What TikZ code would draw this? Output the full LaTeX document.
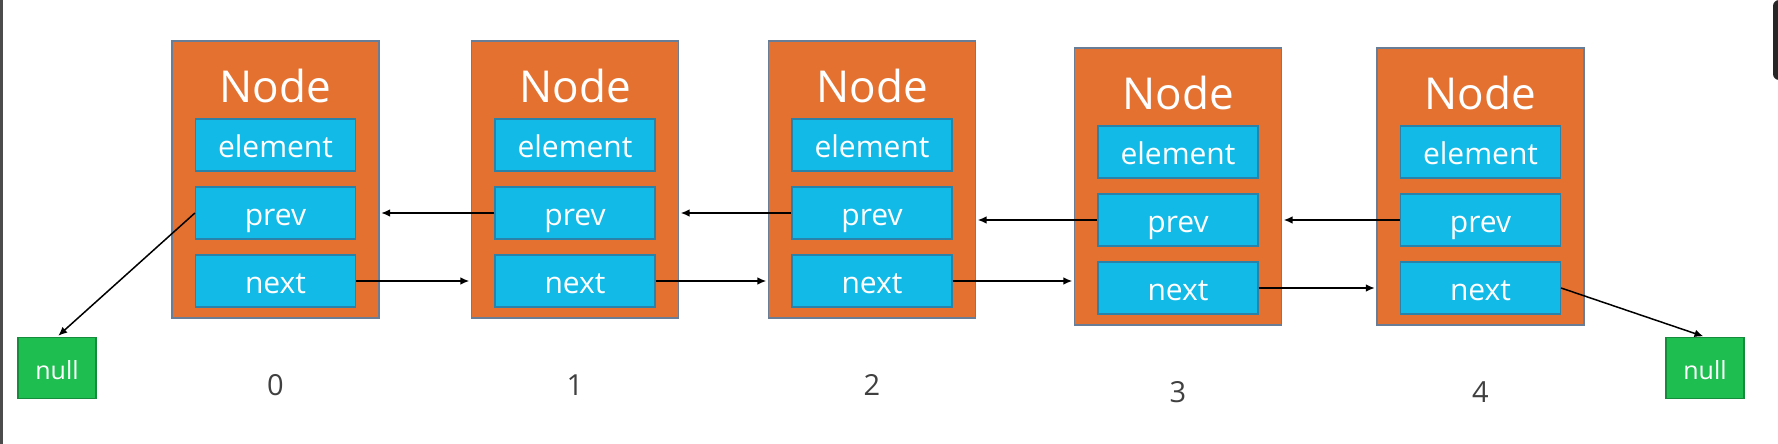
\documentclass[tikz,border=0pt]{standalone}
\usepackage{fontspec}
\setmainfont{Open Sans}
\usetikzlibrary{arrows.meta}
\definecolor{nodeorange}{RGB}{228,113,48}
\definecolor{nodeborder}{RGB}{105,125,150}
\definecolor{fieldblue}{RGB}{18,186,232}
\definecolor{fieldborder}{RGB}{40,130,170}
\definecolor{nullgreen}{RGB}{30,190,80}
\definecolor{nullborder}{RGB}{20,140,60}
\definecolor{idxgray}{RGB}{64,64,64}
\tikzset{
  outerbox/.style={draw=nodeborder, line width=0.6pt, fill=nodeorange, minimum width=103.5pt, minimum height=138.5pt, inner sep=0pt},
  titletext/.style={text=white, font=\fontsize{22}{26}\selectfont, inner sep=0pt},
  fieldbox/.style={draw=fieldborder, line width=0.6pt, fill=fieldblue, text=white, minimum width=80pt, minimum height=26pt, inner sep=0pt, text height=13pt, text depth=1pt, font=\fontsize{15}{17}\selectfont},
  nullbox/.style={draw=nullborder, line width=0.6pt, fill=nullgreen, text=white, minimum width=39pt, minimum height=30.5pt, inner sep=0pt, text height=11.5pt, text depth=0.5pt, font=\fontsize{12.5}{14}\selectfont},
  idxtext/.style={text=idxgray, font=\fontsize{14.5}{16}\selectfont, inner sep=0pt},
  link/.style={draw=black, line width=0.75pt, -{Latex[length=4.5pt,width=3.8pt]}, shorten >=0.8pt}
}
\newcommand\listnode[4]{%
  \node[outerbox] (#1) at (#2,#3+138.5) {};
  \node[titletext] (#1-t) at (#2,#3+45) {Node};
  \node[fieldbox] (#1-e) at (#2,#3+104) {element};
  \node[fieldbox] (#1-p) at (#2,#3+172) {prev};
  \node[fieldbox] (#1-n) at (#2,#3+240) {next};
  \node[idxtext] (#1-i) at (#2,#3+344) {#4};
}
\begin{document}
\begin{tikzpicture}[x=0.5pt,y=-0.5pt]
\useasboundingbox[fill=white] (0,0) rectangle (1778,444);
\fill[black!70] (0,0) rectangle (3,444);
\fill[black!85] (1773,0) -- (1778,0) -- (1778,80) [rounded corners=3pt] -- (1773,80) -- cycle;
\listnode{n0}{275.5}{41}{0}
\listnode{n1}{575}{41}{1}
\listnode{n2}{872}{41}{2}
\listnode{n3}{1178}{48}{3}
\listnode{n4}{1480.5}{48}{4}
\node[nullbox] (nullL) at (57,368) {null};
\node[nullbox] (nullR) at (1705,368) {null};
% prev links
\draw[link] (n1-p.west) -- (n0.east |- n1-p.west);
\draw[link] (n2-p.west) -- (n1.east |- n2-p.west);
\draw[link] (n3-p.west) -- (n2.east |- n3-p.west);
\draw[link] (n4-p.west) -- (n3.east |- n4-p.west);
% next links
\draw[link] (n0-n.east) -- (n1.west |- n0-n.east);
\draw[link] (n1-n.east) -- (n2.west |- n1-n.east);
\draw[link] (n2-n.east) -- (n3.west |- n2-n.east);
\draw[link] (n3-n.east) -- (n4.west |- n3-n.east);
% null links
\draw[link] (n0-p.west) -- (nullL.north);
\draw[link] (n4-n.east) -- (nullR.north);
\end{tikzpicture}
\end{document}
